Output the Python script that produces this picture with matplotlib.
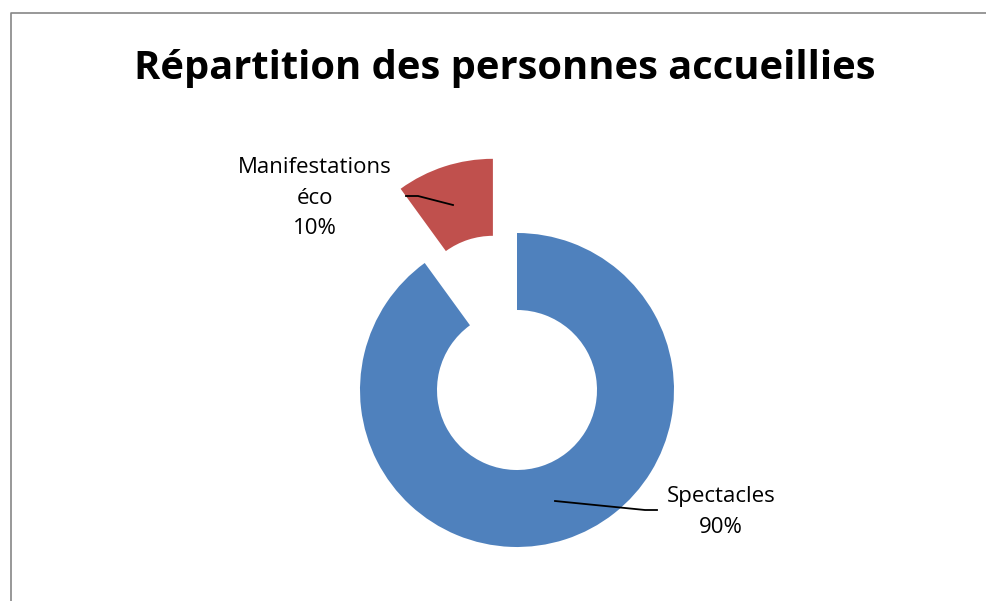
import matplotlib.pyplot as plt
from matplotlib.lines import Line2D

categories = ["Spectacles", "Manifestations\néco"]
values = [90, 10]
colors = ["#4F81BD", "#C0504D"]
title = "Répartition des personnes accueillies"

W, H = 986, 601
fig = plt.figure(figsize=(W / 100, H / 100), dpi=100)
ax = fig.add_axes([0, 0, 1, 1])

# centre du donut en pixels (y vers le haut)
cx, cy = 517, H - 390
r_out, r_in = 157, 80

wedges, _ = ax.pie(
    values, colors=colors, startangle=90, counterclock=False,
    center=(cx, cy), radius=r_out, explode=[0, 78],
    wedgeprops=dict(width=r_out - r_in, linewidth=0), frame=True,
)
ax.set_xlim(0, W)
ax.set_ylim(0, H)
ax.set_aspect("equal")
ax.axis("off")

font = "Open Sans"
ax.text(W / 2 + 12, H - 69, title, ha="center", va="center",
        fontsize=28.7, fontweight="bold", family=font)

# étiquettes
pct = [f"{v:.0f}%" for v in values]
ax.text(721, H - 512, f"{categories[0]}\n{pct[0]}", ha="center", va="center",
        fontsize=16, family=font, linespacing=1.6)
ax.add_line(Line2D([555, 645, 657], [H - 501, H - 510, H - 510], color="black", lw=1.3))

ax.text(315, H - 198, f"{categories[1]}\n{pct[1]}", ha="center", va="center",
        fontsize=16, family=font, linespacing=1.6)
ax.add_line(Line2D([406, 418, 453], [H - 196, H - 196, H - 205], color="black", lw=1.3))

# cadre
ax.add_line(Line2D([10.5, 10.5, W], [0, H - 13, H - 13], color="#868686", lw=1.2))

fig.savefig("out.png", dpi=100)
